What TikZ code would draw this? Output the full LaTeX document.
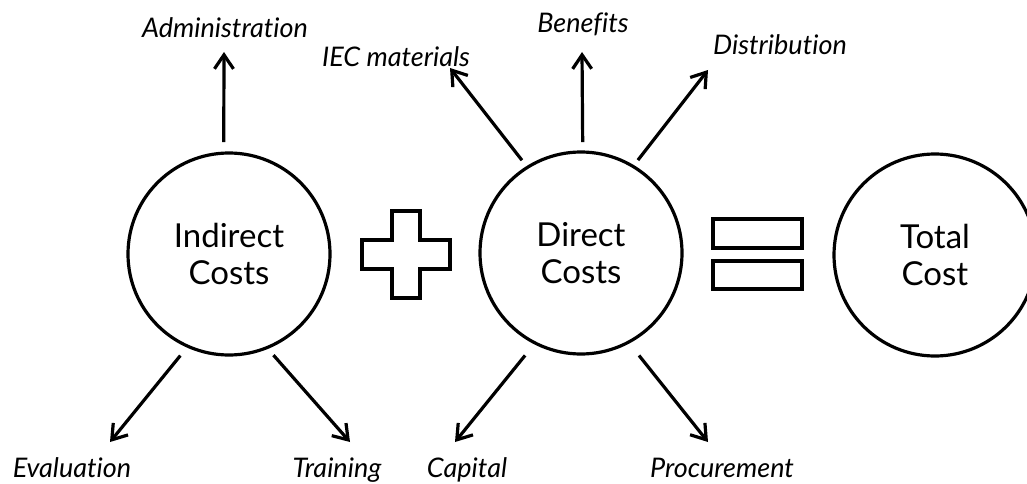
\documentclass[tikz,border=0pt]{standalone}
\usepackage{fontspec}
\setmainfont[Ligatures=NoCommon]{Lato}
\usetikzlibrary{arrows.meta}

\tikzset{
  cost/.style={circle, draw, line width=3.2pt, minimum size=202pt, inner sep=0pt,
    outer sep=0pt, align=center, font=\fontsize{33}{37}\selectfont},
  item/.style={anchor=base, inner sep=0pt, font=\fontsize{27}{30}\selectfont\itshape},
  arr/.style={line width=3.2pt, -{Straight Barb[length=14pt,width=19pt]}},
  sym/.style={line width=3.2pt}
}

\begin{document}
\begin{tikzpicture}[x=1pt,y=-1pt]
		\useasboundingbox (0,0) rectangle (1027,484);

		% the three sums
		\node[cost] (ind) at (229,254) {Indirect\\Costs};
		\node[cost] (dir) at (581,253) {Direct\\Costs};
		\node[cost] (tot) at (935,255) {Total\\Cost};

		% plus and equals signs
		\draw[sym] (392,211) -- (420,211) -- (420,240) -- (450,240) -- (450,269) -- (420,269)
			-- (420,298) -- (392,298) -- (392,269) -- (362,269) -- (362,240) -- (392,240) -- cycle;
		\draw[sym] (713,219) rectangle (802,248);
		\draw[sym] (713,261) rectangle (802,289);

		% cost items
		\node[item] (adm) at (225,38) {Administration};
		\node[item] (eval) at (72,477) {Evaluation};
		\node[item] (train) at (337,477) {Training};
		\node[item] (iec) at (396,67) {IEC materials};
		\node[item] (ben) at (583,33) {Benefits};
		\node[item] (dist) at (780,55) {Distribution};
		\node[item] (cap) at (467,477) {Capital};
		\node[item] (proc) at (722,477) {Procurement};

		% arrow ends
		\coordinate (adm-end) at (224,52);
		\coordinate (eval-end) at (110,442);
		\coordinate (train-end) at (350,442);
		\coordinate (iec-end) at (450,68);
		\coordinate (ben-end) at (582,52);
		\coordinate (dist-end) at (708,70);
		\coordinate (cap-end) at (455,442);
		\coordinate (proc-end) at (708,442);

		\draw[arr, shorten <=11pt] (ind.93) to (adm-end);
		\draw[arr, shorten <=12pt] (ind.246) to (eval-end);
		\draw[arr, shorten <=10pt] (ind.-68) to (train-end);

		\draw[arr, shorten <=9pt] (dir.122) to (iec-end);
		\draw[arr, shorten <=10pt] (dir.89.5) to (ben-end);
		\draw[arr, shorten <=8pt] (dir.59) to (dist-end);
		\draw[arr, shorten <=16pt] (dir.-117) to (cap-end);
		\draw[arr, shorten <=17pt] (dir.-62) to (proc-end);
	\end{tikzpicture}
\end{document}
